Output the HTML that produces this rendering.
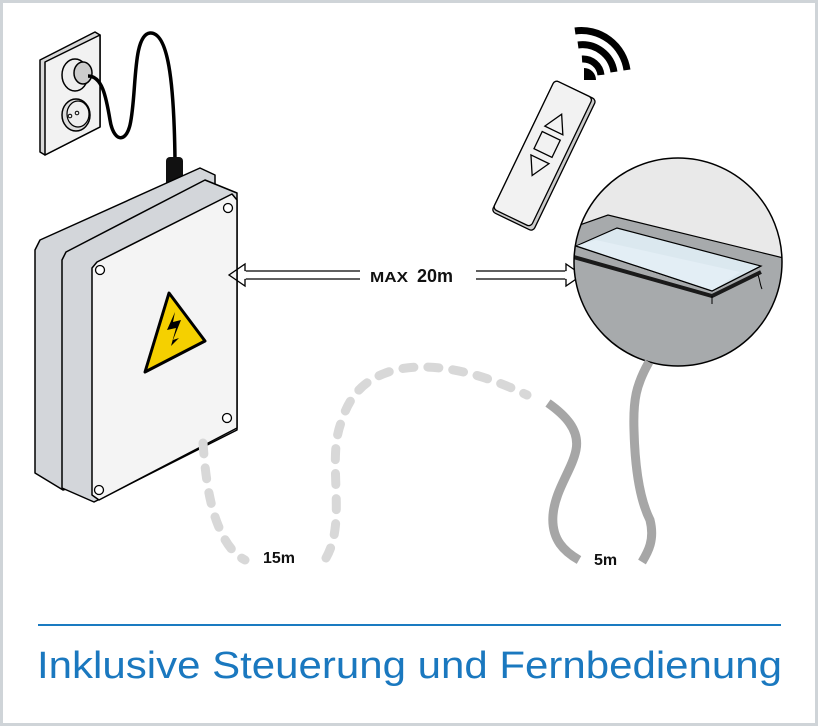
<!DOCTYPE html>
<html><head><meta charset="utf-8"><style>
html,body{margin:0;padding:0;background:#fff}
svg{display:block}
</style></head><body>
<svg width="818" height="726" viewBox="0 0 818 726" xmlns="http://www.w3.org/2000/svg">
<rect x="1.5" y="1.5" width="815" height="723" fill="#fff" stroke="#cfd4d8" stroke-width="3"/>
<defs><clipPath id="cc"><circle cx="678" cy="262" r="104"/></clipPath></defs>

<!-- outlet -->
<polygon points="45,155 40,152 40,60 95,32 100,35 100,127" fill="#d8d8d8" stroke="#000" stroke-width="1.5" stroke-linejoin="round"/>
<polygon points="45,155 45,62 100,35 100,127" fill="#f2f2f2" stroke="#000" stroke-width="1.5" stroke-linejoin="round"/>
<ellipse cx="75" cy="75" rx="13" ry="16" fill="#eee" stroke="#000" stroke-width="1.5"/>
<ellipse cx="83" cy="73" rx="9" ry="11" fill="#ccc" stroke="#000" stroke-width="1.5"/>
<ellipse cx="76" cy="115" rx="14" ry="16" fill="#ddd" stroke="#000" stroke-width="1.5"/>
<ellipse cx="78" cy="114" rx="11" ry="13" fill="#eee" stroke="#000" stroke-width="1.2"/>
<circle cx="70" cy="116" r="1.8" fill="none" stroke="#000"/>
<circle cx="77" cy="113" r="1.8" fill="none" stroke="#000"/>
<path d="M88,76 C102,76 106,96 110,120 C113,140 125,145 130,125 C137,95 132,35 150,33 C168,32 174,80 175,160" fill="none" stroke="#000" stroke-width="3.5"/>
<rect x="166" y="157" width="17" height="30" rx="4" fill="#111"/>

<!-- box -->
<polygon points="40,240 200,168 215,175 215,440 63,490 35,473 35,250" fill="#d3d6da" stroke="#000" stroke-width="1.5" stroke-linejoin="round"/>
<polygon points="66,252 205,180 237,193 237,430 94,502 62,488 62,260" fill="#d3d6da" stroke="#000" stroke-width="1.5" stroke-linejoin="round"/>
<polygon points="97,262 232,194 237,200 237,428 99,500 92,495 92,268" fill="#f4f4f4" stroke="#000" stroke-width="1.5" stroke-linejoin="round"/>
<circle cx="100" cy="270" r="4.5" fill="#fff" stroke="#000" stroke-width="1.3"/>
<circle cx="228" cy="208" r="4.5" fill="#fff" stroke="#000" stroke-width="1.3"/>
<circle cx="227" cy="418" r="4.5" fill="#fff" stroke="#000" stroke-width="1.3"/>
<circle cx="99" cy="490" r="4.5" fill="#fff" stroke="#000" stroke-width="1.3"/>
<polygon points="169,293 205,341 145,372" fill="#f5d000" stroke="#000" stroke-width="3" stroke-linejoin="round"/>
<path d="M175,312 L167,330 L176,328 L171,346 L179,338 L173,340 L181,320 L173,322 Z" fill="#000"/>

<!-- arrows -->
<g fill="none" stroke="#000" stroke-width="1.3">
<path d="M360,271 H245 V264 L229,275 L245,286 V279 H360"/>
<path d="M476,271 H566 V264 L582,275 L566,286 V279 H476"/>
</g>
<path d="M245,271 V279 M566,271 V279" stroke="#fff" stroke-width="1.5"/>
<text x="370" y="282" font-family="Liberation Sans, sans-serif" font-weight="bold" font-size="15" fill="#111" textLength="38" lengthAdjust="spacingAndGlyphs">MAX</text>
<text x="417" y="282" font-family="Liberation Sans, sans-serif" font-weight="bold" font-size="18" fill="#111">20m</text>

<!-- remote -->
<g transform="translate(543,153) rotate(25.7)">
<rect x="-21" y="-71" width="46" height="146" rx="4" fill="#ccc" stroke="#000" stroke-width="1.3"/>
<rect x="-21" y="-71" width="42" height="143" rx="4" fill="#f2f2f2" stroke="#000" stroke-width="1.3"/>
<polygon points="0,-43 10,-25 -10,-25" fill="none" stroke="#000" stroke-width="1.3"/>
<rect x="-10" y="-19" width="20" height="19" fill="none" stroke="#000" stroke-width="1.3"/>
<polygon points="0,25 10,7 -10,7" fill="none" stroke="#000" stroke-width="1.3"/>
</g>
<!-- wifi -->
<g fill="none" stroke="#000" stroke-width="7">
<path d="M582,59 A18,18 0 0 1 601,75"/>
<path d="M578,45 A32,32 0 0 1 614,72"/>
<path d="M575,31 A46,46 0 0 1 627,70"/>
</g>
<path d="M584,80 L584,68 A12,12 0 0 1 596,80 Z" fill="#000"/>

<!-- circle detail -->
<g clip-path="url(#cc)">
<rect x="560" y="150" width="240" height="240" fill="#e9e9e9"/>
<polygon points="560,232 608,215 800,262 800,400 560,400" fill="#a7aaac" stroke="#000" stroke-width="1.2"/>
<polygon points="576,246 617,228 761,266 712,291" fill="#dbe8ef" stroke="#000" stroke-width="1.2"/>
<polygon points="576,246 596,240 740,272 712,291" fill="#e3eef5"/>
<path d="M570,256 L712,296 L761,272" fill="none" stroke="#1a1a1a" stroke-width="4"/>
<path d="M576,246 L712,291 L761,266" fill="none" stroke="#000" stroke-width="1.2"/>
<path d="M712,296 v8 M758,275 c2,5 2,10 4,14" stroke="#000" stroke-width="1" fill="none"/>
</g>
<circle cx="678" cy="262" r="104" fill="none" stroke="#000" stroke-width="1.5"/>

<!-- cables -->
<path d="M203,443 C205,470 208,500 218,525 C226,545 235,555 245,560" fill="none" stroke="#d8d8d8" stroke-width="9" stroke-linecap="round" stroke-dasharray="11,14"/>
<path d="M326,558 C336,540 337,520 336,490 C335,460 334,440 342,420 C350,395 365,378 395,370 C430,362 475,370 527,395" fill="none" stroke="#d8d8d8" stroke-width="9" stroke-linecap="round" stroke-dasharray="11,14"/>
<path d="M548,403 C565,415 580,430 576,450 C572,470 555,490 553,515 C551,540 565,552 579,560" fill="none" stroke="#a6a6a6" stroke-width="9"/>
<path d="M649,362 C636,385 633,400 634,430 C635,470 640,500 650,520 C655,540 648,552 642,562" fill="none" stroke="#a6a6a6" stroke-width="9"/>
<text x="263" y="563" font-family="Liberation Sans, sans-serif" font-weight="bold" font-size="16" fill="#111">15m</text>
<text x="594" y="565" font-family="Liberation Sans, sans-serif" font-weight="bold" font-size="16" fill="#111">5m</text>

<line x1="38" y1="625" x2="781" y2="625" stroke="#1a7bc1" stroke-width="2"/>
<text x="37" y="678" font-family="Liberation Sans, sans-serif" font-size="38" fill="#1a78bf" textLength="745" lengthAdjust="spacingAndGlyphs">Inklusive Steuerung und Fernbedienung</text>
</svg>
</body></html>
